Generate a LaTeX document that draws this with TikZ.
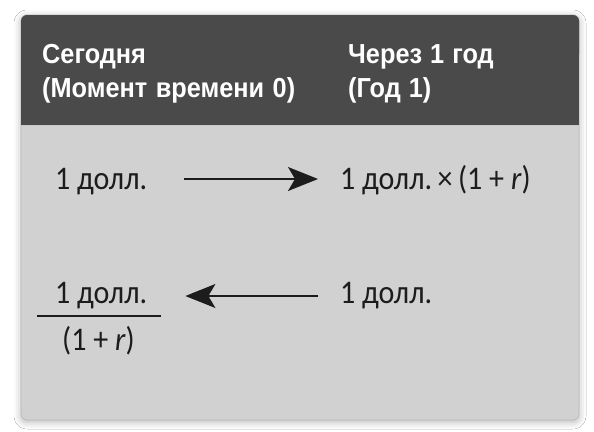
\documentclass[tikz,border=0pt]{standalone}
\usepackage{fontspec}
\setmainfont{Carlito}[FakeStretch=0.91]
\newfontfamily\hdrfont{Liberation Sans}[FakeStretch=0.92]
\usetikzlibrary{arrows.meta,shadows.blur}
\definecolor{hdrgray}{HTML}{4A4A4A}
\definecolor{bodygray}{HTML}{D1D1D1}
\definecolor{edgegray}{HTML}{BDBDBD}
\definecolor{inkcol}{HTML}{1C1C1C}
\tikzset{
  hdrtext/.style={anchor=base west, inner sep=0pt, text=white, font=\hdrfont\bfseries\fontsize{27.5}{30}\selectfont},
  bodytext/.style={anchor=base west, inner sep=0pt, text=inkcol, font=\fontsize{33}{38}\selectfont},
  bigtip/.tip={Stealth[length=30pt,width=24pt,inset=7pt]},
  arr/.style={draw=inkcol, line width=1.6pt, -bigtip},
}
\begin{document}
\begin{tikzpicture}[x=1pt,y=-1pt]
\useasboundingbox (0,0) rectangle (594,431);
\fill[white] (0,0) rectangle (594,431);
% panel
\path[fill=bodygray, draw=edgegray, line width=0.8pt, rounded corners=6pt,
  blur shadow={shadow xshift=0pt, shadow yshift=-2pt, shadow blur radius=7pt, shadow opacity=30}]
  (21,15) rectangle (579,420);
\fill[hdrgray, rounded corners=6pt] (21,15) -- (579,15) -- (579,60) -- (21,60) -- cycle;
\fill[hdrgray] (21,40) rectangle (579,125);
\draw[edgegray!80!white, line width=0.8pt] (21,125.4) -- (579,125.4);
% header texts
\node[hdrtext] (h1) at (42,63) {Сегодня};
\node[hdrtext] (h2) at (42,97) {(Момент\hspace{1.5pt} времени\hspace{1.5pt} 0)};
\node[hdrtext] (h3) at (348,63) {Через\hspace{1pt} 1\hspace{1pt} год};
\node[hdrtext] (h4) at (348,97) {(Год\hspace{1pt} 1)};
% row 1
\node[bodytext] (a) at (55,189) {1 долл.};
\node[bodytext] (b) at (340,189) {1 долл.\,×\,(1 + \textit{r})};
\draw[arr, shorten <=37pt, shorten >=22pt] ([yshift=10pt]a.base east) -- ([yshift=10pt]b.base west);
% row 2
\node[bodytext] (num) at (55,303) {1 долл.};
\node[bodytext] (den) at (62,350) {(1 + \textit{r})};
\coordinate (barl) at (37,316);
\coordinate (barr) at (161,316);
\draw[inkcol, line width=1.4pt] (barl) -- (barr);
\node[bodytext] (d) at (340,303) {1 долл.};
\draw[arr, shorten <=22pt, shorten >=38pt] ([yshift=7pt]d.base west) -- ([yshift=7pt]num.base east);
\end{tikzpicture}
\end{document}
